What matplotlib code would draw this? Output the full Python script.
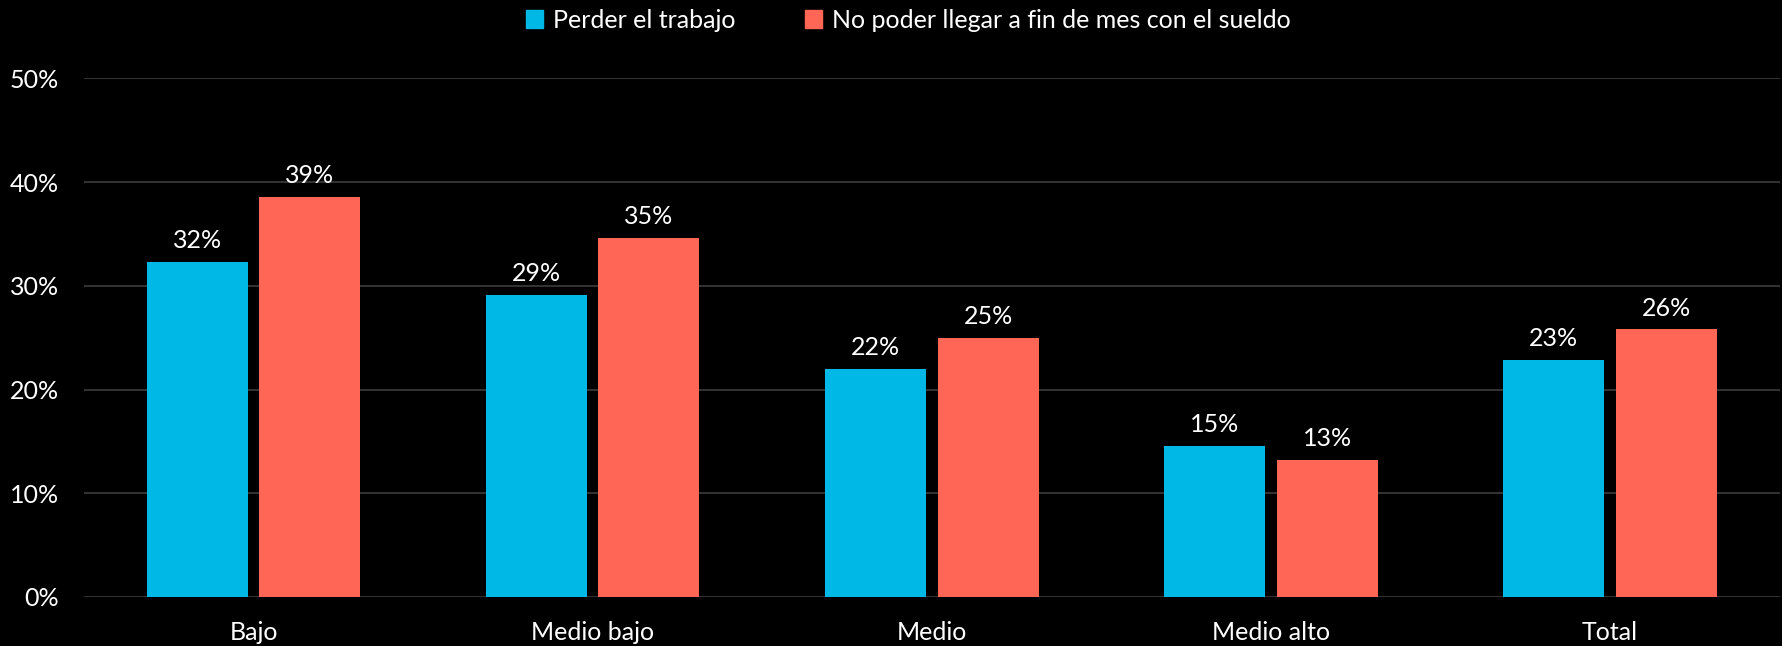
import matplotlib.pyplot as plt
import numpy as np
from matplotlib.patches import Patch

categories = ['Bajo', 'Medio bajo', 'Medio', 'Medio alto', 'Total']
perder_trabajo = [32.3, 29.1, 22.0, 14.6, 22.9]
fin_de_mes = [38.6, 34.6, 25.0, 13.2, 25.8]
series_names = ['Perder el trabajo', 'No poder llegar a fin de mes con el sueldo']
yticks = [0, 10, 20, 30, 40, 50]

cyan = '#00B8E6'
salmon = '#FF6655'

plt.rcParams['font.family'] = ['Lato', 'DejaVu Sans']

fig = plt.figure(figsize=(17.83, 6.46), dpi=100, facecolor='black')
ax = fig.add_axes([0.0471, 0.0759, 0.951, 0.8026], facecolor='black')

x = np.arange(len(categories))
w = 0.298
off = 0.166
b1 = ax.bar(x - off, perder_trabajo, w, color=cyan, zorder=3)
b2 = ax.bar(x + off, fin_de_mes, w, color=salmon, zorder=3)

for bars, vals in [(b1, perder_trabajo), (b2, fin_de_mes)]:
    for r, v in zip(bars, vals):
        ax.annotate(f'{round(v):.0f}%', (r.get_x() + r.get_width() / 2, v),
                    xytext=(0, 7), textcoords='offset points',
                    ha='center', va='bottom', color='white', fontsize=18)

ax.set_xlim(-0.5, len(categories) - 0.5)
ax.set_ylim(0, 50)
ax.set_yticks(yticks)
ax.set_yticklabels([f'{t}%' for t in yticks])
ax.set_xticks(x)
ax.set_xticklabels(categories)
ax.tick_params(axis='both', colors='white', labelsize=18, length=0)
ax.tick_params(axis='y', pad=18)
ax.tick_params(axis='x', pad=17)
ax.yaxis.grid(True, color='#3d3d3d', linewidth=1.2, zorder=0)
for s in ax.spines.values():
    s.set_visible(False)

handles = [Patch(color=cyan), Patch(color=salmon)]
leg = fig.legend(handles, series_names, loc='upper center', ncol=2,
                 bbox_to_anchor=(0.5095, 1.021), frameon=False, fontsize=18,
                 handlelength=0.7, handleheight=0.7, handletextpad=0.4,
                 columnspacing=2.75)
for t in leg.get_texts():
    t.set_color('white')

fig.savefig('out.png', dpi=100, facecolor='black')
